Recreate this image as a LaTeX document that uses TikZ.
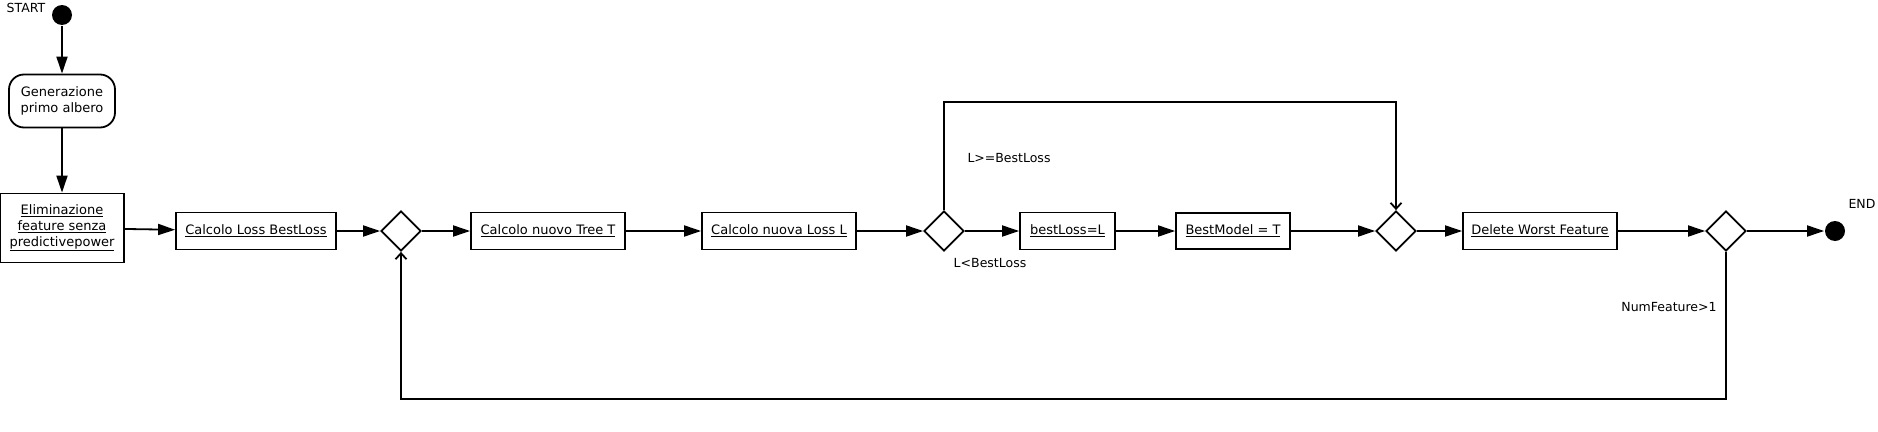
\documentclass[tikz,border=0pt]{standalone}
\usepackage{fontspec}
\setmainfont{DejaVu Sans}
\usetikzlibrary{arrows.meta,positioning,shapes.geometric}

\begin{document}
\begin{tikzpicture}[x=1pt,y=-1pt,on grid,line width=1.8pt,
   font=\fontsize{12.5}{16}\selectfont,
   act/.style={draw,rectangle,align=center,inner sep=0pt,minimum height=37pt,font=\fontsize{13}{16}\selectfont},
   choice/.style={draw,diamond,inner sep=0pt,minimum width=40pt,minimum height=40pt},
   dot/.style={circle,fill,inner sep=0pt,minimum size=20pt},
   cond/.style={inner sep=0pt},
   flow/.style={-{Triangle[length=17pt,width=11pt]}},
   back/.style={-{Straight Barb[length=6pt,width=11pt]}}]
   \useasboundingbox (0,0) rectangle (1878,431);
   \node[dot] (start) at (62,15) {};
   \node[cond] (start_l) [above left=7pt and 36pt of start] {START};
   \node[act,rounded corners=15pt,minimum width=106pt,minimum height=53pt] (gen) [below=86pt of start] {Generazione\\primo albero};
   \node[act,minimum width=124pt,minimum height=69pt] (elim) [below=127pt of gen] {\underline{Eliminazione}\\\underline{feature senza}\\\underline{predictivepower}};
   \node[act,minimum width=160pt] (calc_loss) [below right=3pt and 194pt of elim] {\underline{Calcolo Loss BestLoss}};
   \node[choice] (d_1) [right=145pt of calc_loss] {};
   \node[act,minimum width=154pt] (tree) [right=147pt of d_1] {\underline{Calcolo nuovo Tree T}};
   \node[act,minimum width=154pt] (new_loss) [right=231pt of tree] {\underline{Calcolo nuova Loss L}};
   \node[choice] (d_2) [right=165pt of new_loss] {};
   \node[act,minimum width=95pt] (best_loss) [right=123.5pt of d_2] {\underline{bestLoss=L}};
   \node[act,minimum width=114pt,minimum height=36pt] (best_model) [right=165.5pt of best_loss] {\underline{BestModel = T}};
   \node[choice] (d_3) [right=163pt of best_model] {};
   \node[act,minimum width=154pt] (delete) [right=144pt of d_3] {\underline{Delete Worst Feature}};
   \node[choice] (d_4) [right=186pt of delete] {};
   \node[dot] (end) [right=109pt of d_4] {};
   \node[cond] (end_l) [above right=27pt and 27pt of end] {END};
   % guard labels
   \node[cond] (lt_l) [below right=32pt and 46pt of d_2] {L<BestLoss};
   \node[cond] (ge_l) [above right=73pt and 65pt of d_2] {L>=BestLoss};
   \node[cond] (num_l) [below left=76pt and 57pt of d_4] {NumFeature>1};
    \draw[flow] (start) -- (gen);
    \draw[flow] (gen) -- (elim);
    \draw[flow] (elim) -- (calc_loss);
    \draw[flow] (calc_loss) -- (d_1);
    \draw[flow] (d_1) -- (tree);
    \draw[flow] (tree) -- (new_loss);
    \draw[flow] (new_loss) -- (d_2);
    \draw[flow] (d_2) -- (best_loss);
    \draw[flow] (best_loss) -- (best_model);
    \draw[flow] (best_model) -- (d_3);
    \draw[flow] (d_3) -- (delete);
    \draw[flow] (delete) -- (d_4);
    \draw[flow] (d_4) -- (end);
    % loops
    \draw[back] (d_2.north) -- ++(0,-108) -| (d_3.north);
    \draw[back] (d_4.south) -- ++(0,147) -| (d_1.south);
\end{tikzpicture}
\end{document}
